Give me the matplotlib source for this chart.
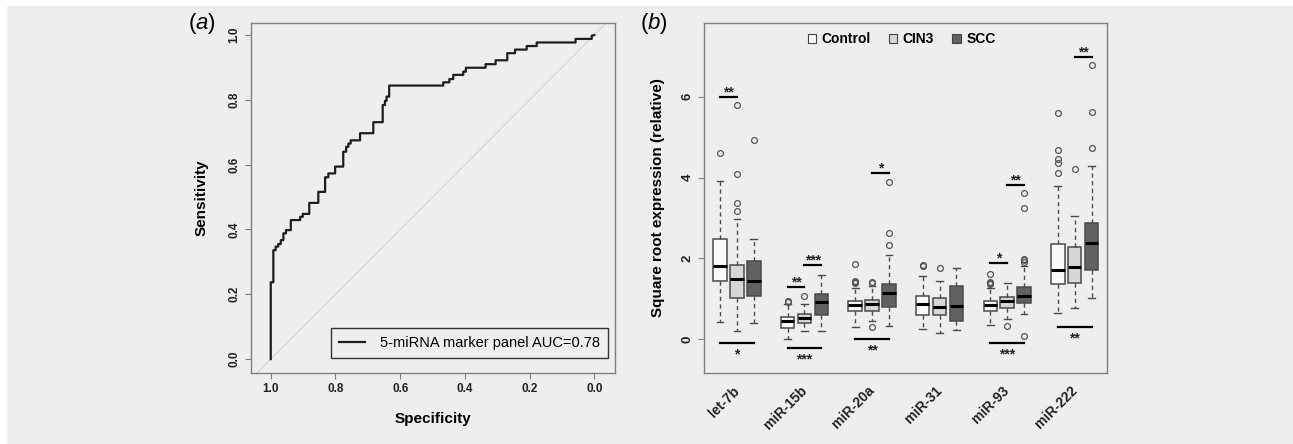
import matplotlib
matplotlib.use("Agg")
import matplotlib.pyplot as plt
from matplotlib.patches import Patch, Rectangle

plt.rcParams.update({
    "font.family": ["Liberation Sans", "DejaVu Sans"],
    "mathtext.fontset": "custom",
    "mathtext.rm": "Liberation Sans",
    "mathtext.it": "Liberation Sans:italic",
    "axes.unicode_minus": False,
})

W, H = 1293, 444
BG = "#eeeeee"
EDGE = "#7f7f7f"

# ===== DATA: (a) ROC curve corners (specificity, sensitivity) =====
ROC_SPEC = [1.000, 1.000, 0.992, 0.992, 0.985, 0.985, 0.977, 0.977, 0.969, 0.969,
            0.961, 0.961, 0.953, 0.953, 0.938, 0.938, 0.909, 0.909, 0.901, 0.901,
            0.881, 0.881, 0.853, 0.853, 0.832, 0.832, 0.822, 0.822, 0.801, 0.801,
            0.776, 0.776, 0.767, 0.767, 0.760, 0.760, 0.753, 0.753, 0.724, 0.724,
            0.683, 0.683, 0.654, 0.654, 0.647, 0.647, 0.642, 0.642, 0.634, 0.634,
            0.467, 0.467, 0.448, 0.448, 0.436, 0.436, 0.405, 0.405, 0.397, 0.397,
            0.336, 0.336, 0.305, 0.305, 0.269, 0.269, 0.245, 0.245, 0.209, 0.209,
            0.178, 0.178, 0.058, 0.058, 0.008, 0.008, 0.000]
ROC_SENS = [0.000, 0.237, 0.237, 0.336, 0.336, 0.347, 0.347, 0.355, 0.355, 0.367,
            0.367, 0.388, 0.388, 0.398, 0.398, 0.429, 0.429, 0.439, 0.439, 0.448,
            0.448, 0.482, 0.482, 0.516, 0.516, 0.561, 0.561, 0.573, 0.573, 0.594,
            0.594, 0.640, 0.640, 0.655, 0.655, 0.665, 0.665, 0.675, 0.675, 0.697,
            0.697, 0.731, 0.731, 0.784, 0.784, 0.797, 0.797, 0.810, 0.810, 0.844,
            0.844, 0.854, 0.854, 0.864, 0.864, 0.877, 0.877, 0.887, 0.887, 0.899,
            0.899, 0.910, 0.910, 0.922, 0.922, 0.944, 0.944, 0.955, 0.955, 0.966,
            0.966, 0.977, 0.977, 0.988, 0.988, 0.998, 1.000]
ROC_LABEL = "5-miRNA marker panel AUC=0.78"

# ===== DATA: (b) boxplots, per gene [whislo, q1, med, q3, whishi] =====
GENES = ["let-7b", "miR-15b", "miR-20a", "miR-31", "miR-93", "miR-222"]
GROUPS = ["Control", "CIN3", "SCC"]
GROUP_COLORS = ["#fafafa", "#d6d6d6", "#616161"]

control_box = [[0.44, 1.45, 1.82, 2.49, 3.92],
               [0.00, 0.29, 0.46, 0.54, 0.88],
               [0.31, 0.69, 0.85, 0.96, 1.28],
               [0.26, 0.60, 0.87, 1.07, 1.57],
               [0.36, 0.71, 0.85, 0.96, 1.26],
               [0.66, 1.37, 1.71, 2.36, 3.80]]
control_out = [[4.61], [0.92, 0.94], [1.40, 1.43, 1.45, 1.86], [1.81, 1.84],
               [1.36, 1.40, 1.42, 1.62], [4.11, 4.35, 4.47, 4.68, 5.59]]

cin3_box = [[0.21, 1.03, 1.50, 1.85, 2.98],
            [0.21, 0.40, 0.535, 0.62, 0.87],
            [0.46, 0.71, 0.87, 0.98, 1.32],
            [0.15, 0.60, 0.79, 1.01, 1.44],
            [0.51, 0.77, 0.955, 1.05, 1.40],
            [0.78, 1.40, 1.78, 2.29, 3.06]]
cin3_out = [[3.18, 3.38, 4.10, 5.79], [1.07], [0.30, 1.40, 1.43], [1.76],
            [0.34], [4.21]]

scc_box = [[0.41, 1.06, 1.44, 1.94, 2.49],
           [0.20, 0.61, 0.92, 1.11, 1.58],
           [0.34, 0.81, 1.14, 1.36, 2.08],
           [0.23, 0.46, 0.83, 1.33, 1.77],
           [0.63, 0.89, 1.07, 1.29, 1.81],
           [1.03, 1.71, 2.39, 2.88, 4.29]]
scc_out = [[4.93], [], [2.33, 2.62, 3.89], [], [0.08, 1.92, 1.96, 1.99, 3.26, 3.61],
           [4.72, 5.63, 6.78]]

# significance bars: gene, from group, to group, y, label, above?
sig_gene = [0, 0, 1, 1, 1, 2, 2, 4, 4, 4, 5, 5]
sig_from = [0, 0, 0, 1, 0, 1, 0, 0, 1, 0, 1, 0]
sig_to   = [1, 2, 1, 2, 2, 2, 2, 1, 2, 2, 2, 2]
sig_y    = [6.00, -0.10, 1.30, 1.84, -0.21, 4.11, 0.00, 1.89, 3.82, -0.10, 6.97, 0.30]
sig_text = ["**", "*", "**", "***", "***", "*", "**", "*", "**", "***", "**", "**"]
sig_up   = [True, False, True, True, False, True, False, True, True, False, True, False]

# ===== FIGURE =====
fig = plt.figure(figsize=(W / 100, H / 100), dpi=100, facecolor=BG)
fig.patches.append(Rectangle((0, 1 - 6 / H), 1, 6 / H, transform=fig.transFigure,
                             facecolor="white", edgecolor="none"))
fig.patches.append(Rectangle((0, 0), 7 / W, 1, transform=fig.transFigure,
                             facecolor="white", edgecolor="none"))


def style_axes(ax):
    ax.set_facecolor(BG)
    for s in ax.spines.values():
        s.set_color(EDGE)
        s.set_linewidth(1.0)
    ax.tick_params(color=EDGE, length=4, width=0.8, labelcolor="#222222")


# ----- (a) ROC -----
ax1 = fig.add_axes([250.7 / W, 1 - 372.7 / H, 364.3 / W, 350 / H])
style_axes(ax1)
ax1.axline((1, 0), (0, 1), color="#d0d0d0", lw=0.8, zorder=1)
ax1.plot(ROC_SPEC, ROC_SENS, color="#1e1e1e", lw=1.6, label=ROC_LABEL, zorder=3)
ax1.set_xlim(1.062, -0.064)
ax1.set_ylim(-0.042, 1.038)
ticks = [1.0, 0.8, 0.6, 0.4, 0.2, 0.0]
ax1.set_xticks(ticks)
ax1.set_xticklabels([f"{t:.1f}" for t in ticks], fontsize=8.5, fontweight="bold")
ax1.set_yticks(ticks)
ax1.set_yticklabels([f"{t:.1f}" for t in ticks], fontsize=8.5, fontweight="bold",
                    rotation=90, va="center")
ax1.set_xlabel("Specificity", fontsize=11, fontweight="bold", labelpad=12)
ax1.set_ylabel("Sensitivity", fontsize=11, fontweight="bold", labelpad=14)
leg1 = ax1.legend(loc="lower right", bbox_to_anchor=(0.981, 0.042), borderaxespad=0,
                  fancybox=False, edgecolor="#333333", facecolor=BG, framealpha=1,
                  fontsize=10.5, handlelength=1.8, borderpad=0.55, handletextpad=1.0)
leg1.get_frame().set_linewidth(1.0)

# ----- (b) boxplots -----
ax2 = fig.add_axes([704 / W, 1 - 373.3 / H, 403.3 / W, 350.6 / H])
style_axes(ax2)
all_box = [control_box, cin3_box, scc_box]
all_out = [control_out, cin3_out, scc_out]
for j, (boxes, outs, col) in enumerate(zip(all_box, all_out, GROUP_COLORS)):
    stats = [dict(whislo=b[0], q1=b[1], med=b[2], q3=b[3], whishi=b[4], fliers=o)
             for b, o in zip(boxes, outs)]
    pos = [4 * g + j + 1 for g in range(len(GENES))]
    ax2.bxp(stats, positions=pos, widths=0.8, capwidths=0.4, patch_artist=True,
            boxprops=dict(facecolor=col, edgecolor="#4a4a4a", lw=1.1),
            medianprops=dict(color="black", lw=2.2),
            whiskerprops=dict(color="#4a4a4a", lw=1.0, linestyle=(0, (3, 2.5))),
            capprops=dict(color="#4a4a4a", lw=1.0),
            flierprops=dict(marker="o", markerfacecolor="none",
                            markeredgecolor="#555555", markersize=4.2, mew=0.9))

for g, a, b, y, t, up in zip(sig_gene, sig_from, sig_to, sig_y, sig_text, sig_up):
    x0, x1 = 4 * g + a + 1, 4 * g + b + 1
    ax2.plot([x0, x1], [y, y], color="black", lw=1.6, zorder=4)
    ax2.annotate(t, xy=((x0 + x1) / 2, y), xytext=(0, 0.5 if up else -11),
                 textcoords="offset points", ha="center", va="baseline",
                 fontsize=10, fontweight="bold", color="#222222")

ax2.set_xlim(0.05, 23.93)
ax2.set_ylim(-0.84, 7.83)
ax2.set_xticks([4 * g + 2 for g in range(len(GENES))])
ax2.set_xticklabels(GENES, rotation=45, ha="right", va="center",
                    rotation_mode="anchor", fontsize=10, fontweight="bold")
ax2.tick_params(axis="x", length=0, pad=11)
ax2.set_yticks([0, 2, 4, 6])
ax2.set_yticklabels(["0", "2", "4", "6"], rotation=90, va="center",
                    fontsize=9.5, fontweight="bold")
ax2.set_ylabel("Square root expression (relative)", fontsize=11,
               fontweight="bold", labelpad=12)

handles = [Patch(facecolor=c, edgecolor="#444444", lw=0.8) for c in GROUP_COLORS]
ax2.legend(handles, GROUPS, loc="upper center", bbox_to_anchor=(0.49, 1.0), ncol=3,
           frameon=False, prop={"weight": "bold", "size": 10}, handlelength=0.6,
           handleheight=0.6, handletextpad=0.4, columnspacing=1.3, borderaxespad=0.3)

# panel labels
fig.text(201.7 / W, 1 - 24 / H, r"($\mathit{a}$)", fontsize=16, ha="center", va="center")
fig.text(654 / W, 1 - 23 / H, r"($\mathit{b}$)", fontsize=16, ha="center", va="center")

fig.savefig("out.png", dpi=100, facecolor=BG)
